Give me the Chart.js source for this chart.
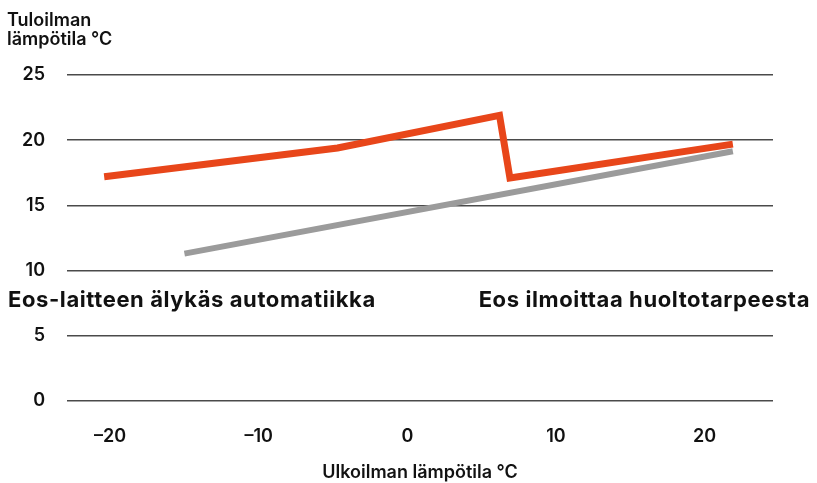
<!DOCTYPE html>
<html>
<head>
<meta charset="utf-8">
<script src="https://cdn.jsdelivr.net/npm/chart.js@4/dist/chart.umd.min.js"></script>
<style>
  body { margin: 0; background: #fff; }
  #wrap { width: 817px; height: 483px; }
</style>
</head>
<body>
<div id="wrap"><canvas id="chart"></canvas></div>
<script>
// data (outdoor temp -> supply air temp)
const smartX = [-20.4, -4.7, 6.2, 6.9, 21.9];
const smartY = [17.2, 19.4, 21.9, 17.1, 19.7];
const basicX = [-15.0, 21.9];
const basicY = [11.3, 19.15];

const xTickValues = [-20, -10, 0, 10, 20];
const xTickLabels = ['–20', '–10', '0', '10', '20'];
const yTickValues = [0, 5, 10, 15, 20, 25];

const yTitle = ['Tuloilman', 'lämpötila °C'];
const xTitle = 'Ulkoilman lämpötila °C';
const noteLeft = 'Eos-laitteen älykäs automatiikka';
const noteRight = 'Eos ilmoittaa huoltotarpeesta';

const FONT = 'Inter, "Noto Sans", sans-serif';

function toPoints(xs, ys) {
    return xs.map((x, i) => ({ x: x, y: ys[i] }));
}

const textPlugin = {
    id: 'texts',
    afterDraw(chart) {
        const ctx = chart.ctx;
        ctx.save();
        ctx.fillStyle = '#111';
        ctx.textAlign = 'left';
        ctx.textBaseline = 'alphabetic';
        ctx.font = '600 18px ' + FONT;
        ctx.fillText(yTitle[0], 7, 26);
        ctx.fillText(yTitle[1], 7, 45);

        ctx.font = '700 22px ' + FONT;
        ctx.letterSpacing = '0.6px';
        ctx.fillText(noteLeft, 8, 307);
        ctx.textAlign = 'right';
        ctx.fillText(noteRight, 810, 307);
        ctx.restore();
    }
};

new Chart(document.getElementById('chart'), {
    type: 'line',
    data: {
        datasets: [
            {
                label: 'smart',
                data: toPoints(smartX, smartY),
                borderColor: '#e8461a',
                borderWidth: 7,
                borderJoinStyle: 'miter',
                borderCapStyle: 'butt',
                pointRadius: 0,
                tension: 0
            },
            {
                label: 'basic',
                data: toPoints(basicX, basicY),
                borderColor: '#9b9b9b',
                borderWidth: 6,
                borderCapStyle: 'butt',
                pointRadius: 0,
                tension: 0
            }
        ]
    },
    options: {
        responsive: true,
        maintainAspectRatio: false,
        animation: false,
        layout: { padding: { top: 75, right: 44, left: 0, bottom: 0 } },
        plugins: {
            legend: { display: false },
            tooltip: { enabled: false }
        },
        scales: {
            x: {
                type: 'linear',
                min: -22.9,
                max: 24.6,
                afterBuildTicks: (scale) => {
                    scale.ticks = xTickValues.map(v => ({ value: v }));
                },
                afterFit: (scale) => { scale.height = 82; },
                grid: { display: false },
                border: { display: false },
                ticks: {
                    padding: 17,
                    color: '#111',
                    font: { family: FONT, size: 18, weight: '600' },
                    callback: (v) => xTickLabels[xTickValues.indexOf(v)]
                },
                title: {
                    display: true,
                    text: xTitle,
                    color: '#111',
                    padding: { top: 0, bottom: 0 },
                    font: { family: FONT, size: 18, weight: '600' }
                }
            },
            y: {
                min: 0,
                max: 25,
                afterBuildTicks: (scale) => {
                    scale.ticks = yTickValues.map(v => ({ value: v }));
                },
                afterFit: (scale) => { scale.width = 67; },
                grid: { color: '#4a4a4a', lineWidth: 1.5, drawTicks: false },
                border: { display: false },
                ticks: {
                    padding: 22,
                    color: '#111',
                    font: { family: FONT, size: 18, weight: '600' }
                }
            }
        }
    },
    plugins: [textPlugin]
});
</script>
</body>
</html>
